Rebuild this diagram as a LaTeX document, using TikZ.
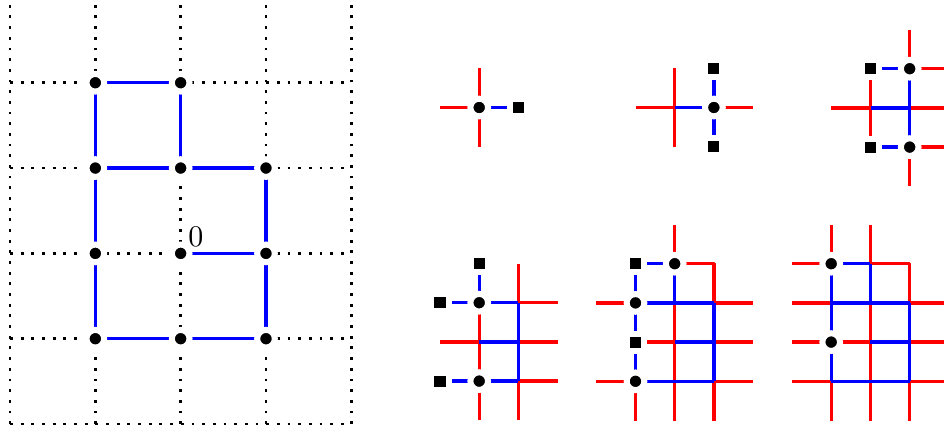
\documentclass[tikz,border=0pt]{standalone}
\tikzset{
  rl/.style={draw=red, line width=1.1pt, line join=round},
  bl/.style={draw=blue, line width=1.1pt},
  gridl/.style={draw=black, line width=0.95pt, dash pattern=on 0.95pt off 2.61pt},
  dotn/.style={circle, fill=black, draw=white, line width=2pt, minimum size=5.9pt, inner sep=0pt},
  sqn/.style={rectangle, fill=black, draw=white, line width=2pt, minimum size=5.7pt, inner sep=0pt},
}
\begin{document}
\begin{tikzpicture}[x=0.33344pt,y=-0.33344pt]
\useasboundingbox (0,0) rectangle (944,433);
% left lattice coordinates
\foreach \i in {0,...,4} \foreach \j in {0,...,5}
  \coordinate (g-\i-\j) at (10+85.33*\i, -2.6+85.33*\j);
% small panel coordinates
\foreach \p/\ox/\oy/\nc/\nr in {1/440/68.3/2/2, 2/635.5/68.3/3/2, 3/831.3/29.5/3/4, 4/440/263.5/3/4, 5/596.3/224.5/4/5, 6/792/224.5/4/5}
  \foreach \i in {0,...,\nc} \foreach \j in {0,...,\nr}
    \coordinate (p\p-\i-\j) at (\ox+39.2*\i, \oy+39.2*\j);

% left dotted grid
\foreach \i in {0,...,4} \draw[gridl] (g-\i-5) -- (g-\i-0);
\foreach \j in {1,...,5} \draw[gridl] (g-0-\j) -- (g-4-\j);
% left blue cluster
\draw[bl] (g-1-1) -- (g-2-1) (g-1-2) -- (g-3-2) (g-1-1) -- (g-1-4) (g-2-1) -- (g-2-2)
          (g-3-2) -- (g-3-4) (g-2-3) -- (g-3-3) (g-1-4) -- (g-3-4);
\foreach \a/\b in {1/1,2/1,1/2,2/2,3/2,1/3,2/3,3/3,1/4,2/4,3/4}
  \node[dotn] (gd-\a-\b) at (g-\a-\b) {};
\node[inner sep=0pt] (zero) at ([shift={(15.3,-17)}]g-2-3) {0};

% panel 1
\draw[rl] (p1-0-1) -- (p1-1-1) (p1-1-0) -- (p1-1-2);
\draw[bl] (p1-1-1) -- (p1-2-1);
\node[dotn] (d1a) at (p1-1-1) {};
\node[sqn] (s1a) at (p1-2-1) {};

% panel 2
\draw[rl] (p2-0-1) -- (p2-1-1) (p2-1-0) -- (p2-1-2) (p2-2-1) -- (p2-3-1);
\draw[bl] (p2-1-1) -- (p2-2-1) (p2-2-0) -- (p2-2-2);
\node[dotn] (d2a) at (p2-2-1) {};
\node[sqn] (s2a) at (p2-2-0) {};
\node[sqn] (s2b) at (p2-2-2) {};

% panel 3
\draw[rl] (p3-2-0) -- (p3-2-1) (p3-2-3) -- (p3-2-4) (p3-2-1) -- (p3-3-1) (p3-2-3) -- (p3-3-3)
          (p3-0-2) -- (p3-1-2) (p3-2-2) -- (p3-3-2) (p3-1-1) -- (p3-1-3);
\draw[bl] (p3-1-1) -- (p3-2-1) (p3-1-3) -- (p3-2-3) (p3-1-2) -- (p3-2-2) (p3-2-1) -- (p3-2-3);
\node[dotn] (d3a) at (p3-2-1) {};
\node[dotn] (d3b) at (p3-2-3) {};
\node[sqn] (s3a) at (p3-1-1) {};
\node[sqn] (s3b) at (p3-1-3) {};

% panel 4
\draw[rl] (p4-1-1) -- (p4-1-4) (p4-0-2) -- (p4-1-2) (p4-2-0) -- (p4-2-1) (p4-2-3) -- (p4-2-4)
          (p4-2-1) -- (p4-3-1) (p4-2-2) -- (p4-3-2) (p4-2-3) -- (p4-3-3);
\draw[bl] (p4-1-0) -- (p4-1-1) (p4-0-1) -- (p4-2-1) (p4-2-1) -- (p4-2-3) (p4-1-2) -- (p4-2-2)
          (p4-0-3) -- (p4-2-3);
\node[dotn] (d4a) at (p4-1-1) {};
\node[dotn] (d4b) at (p4-1-3) {};
\node[sqn] (s4a) at (p4-1-0) {};
\node[sqn] (s4b) at (p4-0-1) {};
\node[sqn] (s4c) at (p4-0-3) {};

% panel 5
\draw[rl] (p5-2-0) -- (p5-2-1) (p5-2-1) -- (p5-3-1) -- (p5-3-2) (p5-0-2) -- (p5-1-2) (p5-0-4) -- (p5-1-4)
          (p5-1-3) -- (p5-2-3) (p5-2-2) -- (p5-2-5) (p5-3-2) -- (p5-4-2) (p5-3-3) -- (p5-4-3)
          (p5-3-4) -- (p5-4-4) (p5-1-4) -- (p5-1-5) (p5-3-4) -- (p5-3-5);
\draw[bl] (p5-1-1) -- (p5-2-1) (p5-1-1) -- (p5-1-4) (p5-2-1) -- (p5-2-2) (p5-1-2) -- (p5-3-2)
          (p5-3-2) -- (p5-3-4) (p5-2-3) -- (p5-3-3) (p5-1-4) -- (p5-3-4);
\node[dotn] (d5a) at (p5-2-1) {};
\node[dotn] (d5b) at (p5-1-2) {};
\node[dotn] (d5c) at (p5-1-4) {};
\node[sqn] (s5a) at (p5-1-1) {};
\node[sqn] (s5b) at (p5-1-3) {};

% panel 6
\draw[rl] (p6-1-0) -- (p6-1-1) (p6-2-0) -- (p6-2-1) (p6-0-1) -- (p6-1-1) (p6-0-2) -- (p6-1-2)
          (p6-0-3) -- (p6-1-3) (p6-0-4) -- (p6-1-4) (p6-2-1) -- (p6-3-1) -- (p6-3-2)
          (p6-3-2) -- (p6-4-2) (p6-3-3) -- (p6-4-3) (p6-3-4) -- (p6-4-4) (p6-1-3) -- (p6-2-3)
          (p6-2-2) -- (p6-2-5) (p6-1-4) -- (p6-1-5) (p6-3-4) -- (p6-3-5);
\draw[bl] (p6-1-1) -- (p6-2-1) (p6-1-1) -- (p6-1-4) (p6-2-1) -- (p6-2-2) (p6-1-2) -- (p6-3-2)
          (p6-3-2) -- (p6-3-4) (p6-2-3) -- (p6-3-3) (p6-1-4) -- (p6-3-4);
\node[dotn] (d6a) at (p6-1-1) {};
\node[dotn] (d6b) at (p6-1-3) {};
\end{tikzpicture}
\end{document}
